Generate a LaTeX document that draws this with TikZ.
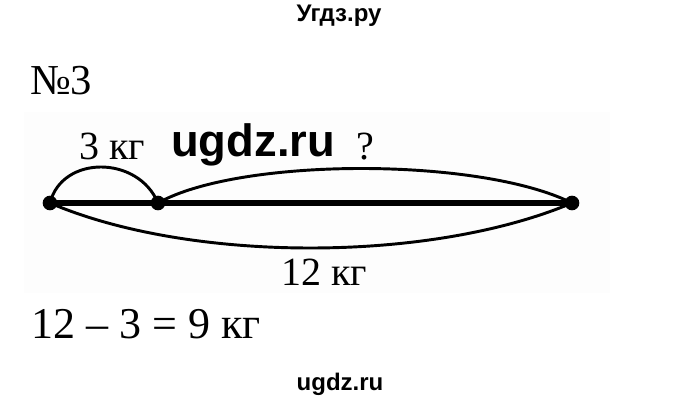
\documentclass[tikz,border=0pt]{standalone}
\usepackage{fontspec}
\setmainfont{Liberation Serif}
\newfontfamily\headfont{Liberation Sans}

\begin{document}
\begin{tikzpicture}[x=0.75pt,y=-0.75pt,
        dot/.style = {circle,
            fill,
            inner sep = 0pt,
            minimum size = 11pt,
            },
        bow/.style = {line width = 2.2pt},
        caption/.style = {anchor = base west,
            inner sep = 0pt,
            font = \fontsize{30}{32}\selectfont,
            },
        site/.style = {anchor = base,
            inner sep = 0pt,
            font = \headfont\bfseries\fontsize{18}{20}\selectfont,
            }]

    \useasboundingbox (0,0) rectangle (680,402);

    % Background of the scan
    \fill[black!0.8] (24,112) rectangle (610,293);

    % Header and footer
    \node[site] (head) at (339,22) {Угдз.ру};
    \node[site] (foot) at (340,390) {ugdz.ru};

    % Task number
    \node[caption,font=\fontsize{32}{34}\selectfont] (task) at (30,95) {№3};

    % Points of the segment
    \node[dot] (L) at (50,203) {};
    \node[dot] (M) at (158,203) {};
    \node[dot] (R) at (572,203) {};

    % Whole segment
    \draw[line width = 4pt] (L.center) -- (R.center);

    % Arcs
    \draw[bow] (L.center) .. controls (62,155) and (138,155) .. (M.center);
    \draw[bow] (M.center) .. controls (240,157) and (480,157) .. (R.center);
    \draw[bow] (L.center) .. controls (190,263) and (430,263) .. (R.center);

    % Labels
    \node[caption] (part) at (79,160) {3 кг};
    \node[caption] (rest) at (356,160) {?};
    \node[caption] (whole) at (281,285) {12 кг};

    % Watermark
    \node[site,anchor=base west,font=\headfont\bfseries\fontsize{34}{36}\selectfont] (wm) at (171,157) {ugdz.ru};

    % Answer
    \node[caption,font=\fontsize{33}{36}\selectfont] (answer) at (31,338) {12 – 3 = 9 кг};

\end{tikzpicture}
\end{document}
